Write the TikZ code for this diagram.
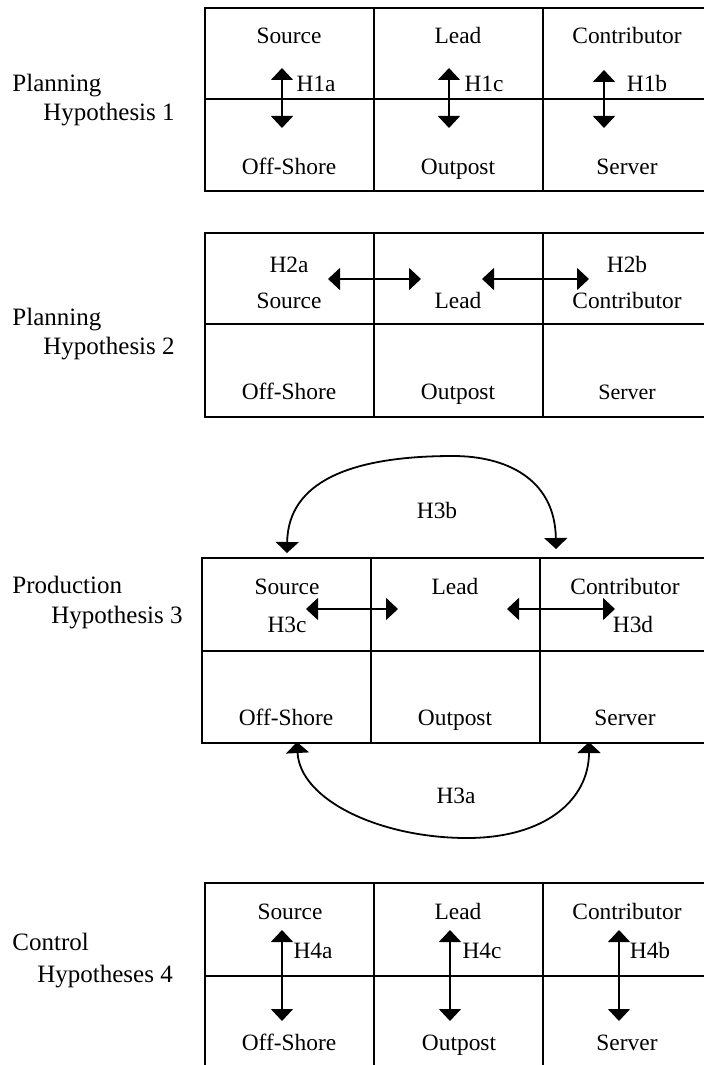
\documentclass[tikz,border=0pt]{standalone}
\usepackage{fontspec}
\setmainfont{Liberation Serif}
\usetikzlibrary{arrows.meta}
\begin{document}
\begin{tikzpicture}[x=0.5pt,y=-0.5pt,
  lbl/.style={inner sep=0pt,anchor=base,font=\fontsize{11.7}{13}\selectfont},
  side/.style={inner sep=0pt,anchor=base west,font=\fontsize{12.5}{14}\selectfont},
  frame/.style={line width=0.9pt},
  dbl/.style={line width=0.8pt,{Triangle[width=11pt,length=6pt]}-{Triangle[width=11pt,length=6pt]}},
  arc/.style={line width=0.9pt,{Triangle[width=11.5pt,length=5.5pt]}-{Triangle[width=11.5pt,length=5.5pt]}}]
\clip (0,0) rectangle (704,1065);
\fill[white] (0,0) rectangle (704,1065);

% ---------- Box 1 ----------
\draw[frame] (205,8) rectangle (712,191);
\draw[frame] (205,99) -- (712,99);
\draw[frame] (374,8) -- (374,191);
\draw[frame] (543,8) -- (543,191);
\node[side] (p1a) at (12,91) {Planning};
\node[side] (p1b) at (43,120) {Hypothesis 1};
\node[lbl] (s1) at (289,44) {Source};
\node[lbl] (l1) at (458,44) {Lead};
\node[lbl] (c1) at (627,44) {Contributor};
\node[lbl] (h1a) at (316,91) {H1a};
\node[lbl] (h1c) at (484,91) {H1c};
\node[lbl] (h1b) at (647,91) {H1b};
\node[lbl] (o1) at (289,174) {Off-Shore};
\node[lbl] (op1) at (458,174) {Outpost};
\node[lbl] (sv1) at (627,174) {Server};
\coordinate (a1t) at (282,68); \coordinate (a1b) at (282,128);
\coordinate (b1t) at (449,68); \coordinate (b1b) at (449,128);
\coordinate (c1t) at (604,70); \coordinate (c1b) at (604,128);
\draw[dbl] (a1t) -- (a1b);
\draw[dbl] (b1t) -- (b1b);
\draw[dbl] (c1t) -- (c1b);

% ---------- Box 2 ----------
\draw[frame] (205,233) rectangle (712,417);
\draw[frame] (205,324) -- (712,324);
\draw[frame] (374,233) -- (374,417);
\draw[frame] (543,233) -- (543,417);
\node[side] (p2a) at (12,325) {Planning};
\node[side] (p2b) at (43,354) {Hypothesis 2};
\node[lbl] (h2a) at (289,272) {H2a};
\node[lbl] (h2b) at (627,272) {H2b};
\node[lbl] (s2) at (289,308) {Source};
\node[lbl] (l2) at (458,308) {Lead};
\node[lbl] (c2) at (627,308) {Contributor};
\node[lbl] (o2) at (289,399) {Off-Shore};
\node[lbl] (op2) at (458,399) {Outpost};
\node[lbl,font=\fontsize{11}{13}\selectfont] (sv2) at (627,399) {Server};
\coordinate (a2l) at (328,279); \coordinate (a2r) at (421,279);
\coordinate (b2l) at (482,279); \coordinate (b2r) at (589,279);
\draw[dbl] (a2l) -- (a2r);
\draw[dbl] (b2l) -- (b2r);

% ---------- Box 3 ----------
\draw[frame] (202,558) rectangle (709,743);
\draw[frame] (202,651) -- (709,651);
\draw[frame] (371,558) -- (371,743);
\draw[frame] (540,558) -- (540,743);
\node[side] (p3a) at (12,593) {Production};
\node[side] (p3b) at (51,623) {Hypothesis 3};
\node[lbl] (s3) at (287,594) {Source};
\node[lbl] (l3) at (455,594) {Lead};
\node[lbl] (c3) at (625,594) {Contributor};
\node[lbl] (h3c) at (287,632) {H3c};
\node[lbl] (h3d) at (633,632) {H3d};
\node[lbl] (o3) at (286,725) {Off-Shore};
\node[lbl] (op3) at (455,725) {Outpost};
\node[lbl] (sv3) at (625,725) {Server};
\node[lbl] (h3b) at (437,518) {H3b};
\node[lbl] (h3a) at (456,803) {H3a};
\coordinate (a3l) at (306,609); \coordinate (a3r) at (398,609);
\coordinate (b3l) at (507,609); \coordinate (b3r) at (615,609);
\draw[dbl] (a3l) -- (a3r);
\draw[dbl] (b3l) -- (b3r);
\coordinate (t3l) at (287,553); \coordinate (t3r) at (556,549);
\coordinate (t3top) at (453,456);
\draw[arc] (t3l) .. controls (288,482) and (350,456) .. (t3top)
  .. controls (505,456) and (555,478) .. (t3r);
\coordinate (u3l) at (297,742); \coordinate (u3r) at (589,742);
\coordinate (u3bot) at (467,838);
\draw[arc] (u3l) .. controls (300,800) and (380,838) .. (u3bot)
  .. controls (545,838) and (589,800) .. (u3r);

% ---------- Box 4 ----------
\draw[frame] (205,883) rectangle (712,1068);
\draw[frame] (205,976) -- (712,976);
\draw[frame] (374,883) -- (374,1068);
\draw[frame] (543,883) -- (543,1068);
\node[side] (p4a) at (12,950) {Control};
\node[side] (p4b) at (37,982) {Hypotheses 4};
\node[lbl] (s4) at (290,919) {Source};
\node[lbl] (l4) at (458,919) {Lead};
\node[lbl] (c4) at (627,919) {Contributor};
\node[lbl] (h4a) at (313,958) {H4a};
\node[lbl] (h4c) at (482,958) {H4c};
\node[lbl] (h4b) at (650,958) {H4b};
\node[lbl] (o4) at (289,1050) {Off-Shore};
\node[lbl] (op4) at (459,1050) {Outpost};
\node[lbl] (sv4) at (627,1050) {Server};
\coordinate (a4t) at (282,930); \coordinate (a4b) at (282,1021);
\coordinate (b4t) at (450,930); \coordinate (b4b) at (450,1021);
\coordinate (c4t) at (619,930); \coordinate (c4b) at (619,1021);
\draw[dbl] (a4t) -- (a4b);
\draw[dbl] (b4t) -- (b4b);
\draw[dbl] (c4t) -- (c4b);
\end{tikzpicture}
\end{document}
